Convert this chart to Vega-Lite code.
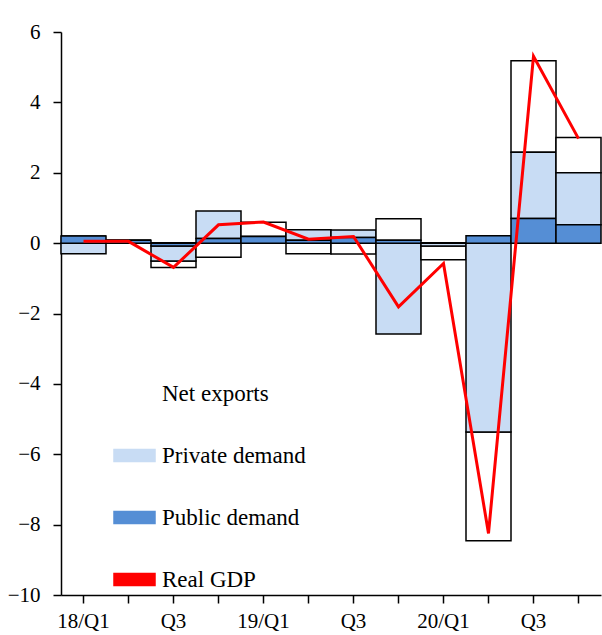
{
  "$schema": "https://vega.github.io/schema/vega-lite/v6.json",
  "width": 540,
  "height": 563,
  "autosize": {"type": "none"},
  "padding": {"left": 61, "top": 32, "right": 1, "bottom": 40},
  "background": "white",
  "title": {
    "text": "s.a., q/q % chg., contribution",
    "anchor": "start",
    "frame": "group",
    "dx": -6,
    "offset": 5,
    "baseline": "alphabetic",
    "font": "Liberation Serif",
    "fontSize": 23,
    "fontWeight": "normal",
    "color": "black"
  },
  "config": {
    "aria": false,
    "view": {"stroke": null},
    "axis": {
      "domainColor": "black",
      "tickColor": "black",
      "labelColor": "black",
      "labelFont": "Liberation Serif",
      "labelFontSize": 21,
      "grid": false,
      "title": null,
      "domainWidth": 1.5,
      "tickWidth": 1.5
    }
  },
  "data": {
    "values": [
      {"quarter": "18/Q1", "component": "Net exports", "pct": 0.0},
      {"quarter": "18/Q1", "component": "Private demand", "pct": -0.3},
      {"quarter": "18/Q1", "component": "Public demand", "pct": 0.2},
      {"quarter": "18/Q1", "component": "Real GDP", "pct": 0.05},
      {"quarter": "18/Q2", "component": "Net exports", "pct": 0.0},
      {"quarter": "18/Q2", "component": "Private demand", "pct": 0.0},
      {"quarter": "18/Q2", "component": "Public demand", "pct": 0.08},
      {"quarter": "18/Q2", "component": "Real GDP", "pct": 0.05},
      {"quarter": "18/Q3", "component": "Net exports", "pct": -0.18},
      {"quarter": "18/Q3", "component": "Private demand", "pct": -0.43},
      {"quarter": "18/Q3", "component": "Public demand", "pct": -0.08},
      {"quarter": "18/Q3", "component": "Real GDP", "pct": -0.69},
      {"quarter": "18/Q4", "component": "Net exports", "pct": -0.4},
      {"quarter": "18/Q4", "component": "Private demand", "pct": 0.78},
      {"quarter": "18/Q4", "component": "Public demand", "pct": 0.13},
      {"quarter": "18/Q4", "component": "Real GDP", "pct": 0.52},
      {"quarter": "19/Q1", "component": "Net exports", "pct": 0.4},
      {"quarter": "19/Q1", "component": "Private demand", "pct": 0.0},
      {"quarter": "19/Q1", "component": "Public demand", "pct": 0.19},
      {"quarter": "19/Q1", "component": "Real GDP", "pct": 0.6},
      {"quarter": "19/Q2", "component": "Net exports", "pct": -0.3},
      {"quarter": "19/Q2", "component": "Private demand", "pct": 0.3},
      {"quarter": "19/Q2", "component": "Public demand", "pct": 0.08},
      {"quarter": "19/Q2", "component": "Real GDP", "pct": 0.11},
      {"quarter": "19/Q3", "component": "Net exports", "pct": -0.31},
      {"quarter": "19/Q3", "component": "Private demand", "pct": 0.21},
      {"quarter": "19/Q3", "component": "Public demand", "pct": 0.16},
      {"quarter": "19/Q3", "component": "Real GDP", "pct": 0.19},
      {"quarter": "19/Q4", "component": "Net exports", "pct": 0.61},
      {"quarter": "19/Q4", "component": "Private demand", "pct": -2.58},
      {"quarter": "19/Q4", "component": "Public demand", "pct": 0.08},
      {"quarter": "19/Q4", "component": "Real GDP", "pct": -1.81},
      {"quarter": "20/Q1", "component": "Net exports", "pct": -0.39},
      {"quarter": "20/Q1", "component": "Private demand", "pct": -0.08},
      {"quarter": "20/Q1", "component": "Public demand", "pct": 0.0},
      {"quarter": "20/Q1", "component": "Real GDP", "pct": -0.58},
      {"quarter": "20/Q2", "component": "Net exports", "pct": -3.09},
      {"quarter": "20/Q2", "component": "Private demand", "pct": -5.37},
      {"quarter": "20/Q2", "component": "Public demand", "pct": 0.21},
      {"quarter": "20/Q2", "component": "Real GDP", "pct": -8.25},
      {"quarter": "20/Q3", "component": "Net exports", "pct": 2.6},
      {"quarter": "20/Q3", "component": "Private demand", "pct": 1.88},
      {"quarter": "20/Q3", "component": "Public demand", "pct": 0.7},
      {"quarter": "20/Q3", "component": "Real GDP", "pct": 5.31},
      {"quarter": "20/Q4", "component": "Net exports", "pct": 1.0},
      {"quarter": "20/Q4", "component": "Private demand", "pct": 1.48},
      {"quarter": "20/Q4", "component": "Public demand", "pct": 0.52},
      {"quarter": "20/Q4", "component": "Real GDP", "pct": 2.97}
    ]
  },
  "layer": [
    {
      "mark": {"type": "rule", "color": "black", "strokeWidth": 1.5},
      "encoding": {
        "y": {"datum": 0, "type": "quantitative"}
      }
    },
    {
      "transform": [{"filter": {"field": "component", "oneOf": ["Net exports", "Private demand", "Public demand"]}}],
      "mark": {"type": "bar", "stroke": "black", "strokeWidth": 1.5},
      "encoding": {
        "x": {
          "field": "quarter", "type": "ordinal",
          "scale": {"paddingInner": 0, "paddingOuter": 0},
          "axis": {
            "labelAngle": 0,
            "tickSize": 8,
            "labelPadding": 7,
            "labelExpr": "indexof(datum.value, 'Q1') >= 0 ? datum.value : (indexof(datum.value, 'Q3') >= 0 ? 'Q3' : '')"
          }
        },
        "y": {
          "field": "pct", "type": "quantitative", "stack": "zero",
          "scale": {"domain": [-10, 6], "nice": false},
          "axis": {"values": [-10, -8, -6, -4, -2, 0, 2, 4, 6], "tickSize": 8, "labelPadding": 13}
        },
        "color": {
          "field": "component", "type": "nominal",
          "scale": {
            "domain": ["Net exports", "Private demand", "Public demand", "Real GDP"],
            "range": ["#ffffff", "#c8dcf4", "#558ed5", "#ff0000"]
          },
          "legend": {
            "title": null,
            "orient": "none",
            "legendX": 52,
            "legendY": 340,
            "direction": "vertical",
            "labelFont": "Liberation Serif",
            "labelFontSize": 23,
            "labelColor": "black",
            "labelOffset": 6,
            "symbolSize": 1681,
            "rowPadding": 28,
            "symbolType": "M-1,-0.29H1V0.29H-1Z",
            "symbolStrokeColor": "black",
            "symbolStrokeWidth": 1.5,
            "symbolOpacity": 1
          }
        }
      }
    },
    {
      "transform": [{"filter": {"field": "component", "equal": "Real GDP"}}],
      "mark": {"type": "line", "strokeWidth": 3},
      "encoding": {
        "x": {"field": "quarter", "type": "ordinal"},
        "y": {"field": "pct", "type": "quantitative"},
        "color": {"field": "component", "type": "nominal"}
      }
    }
  ]
}
